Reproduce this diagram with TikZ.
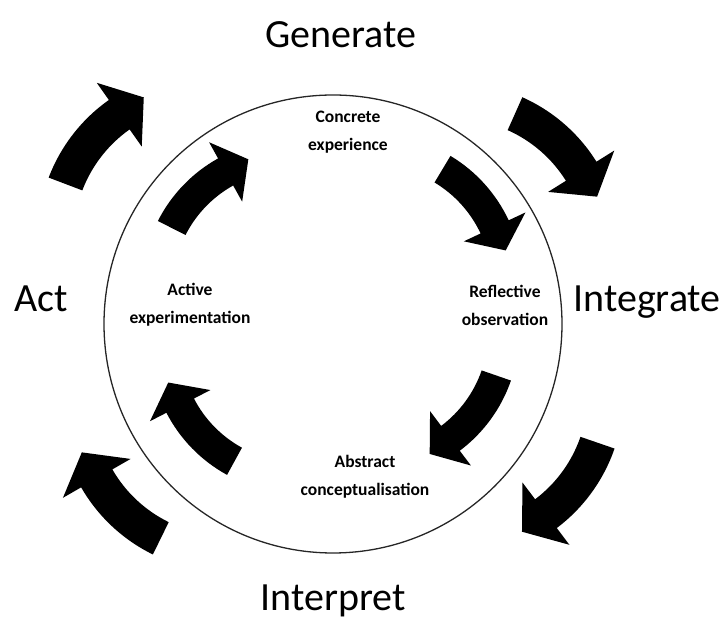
\documentclass[tikz,border=0pt]{standalone}
\usepackage{fontspec}
\setmainfont{Carlito}
\usetikzlibrary{calc}
\tikzset{
  arrowfill/.style={fill=black},
  biglabel/.style={font=\fontsize{40}{48}\selectfont, inner sep=0pt, anchor=base},
  smalllabel/.style={font=\fontsize{17.5}{28}\selectfont\bfseries, align=center, inner sep=0pt},
  ring/.style={circle, draw=black!85, line width=1.3pt, minimum size=458pt, inner sep=0pt}
}
% #1 x, #2 y, #3 start direction, #4 curvature radius, #5 half shaft width,
% #6 half head width, #7 head length, #8 turning angle
\newcommand\curvedblockarrow[8]{%
  \begin{scope}[shift={(#1,#2)}, rotate=#3]
    \fill[arrowfill] (0,#5) arc[start angle=90, end angle={90-#8}, radius={#4+#5}]
      -- ([shift={(0,-#4)}]{90-#8}:{#4+#6})
      -- ($(0,-#4)+({90-#8}:#4)+({-#8}:#7)$)
      -- ([shift={(0,-#4)}]{90-#8}:{#4-#6})
      -- ([shift={(0,-#4)}]{90-#8}:{#4-#5})
      arc[start angle={90-#8}, end angle=90, radius={#4-#5}]
      -- cycle;
  \end{scope}}
\begin{document}
\begin{tikzpicture}[x=1pt, y=1pt]
\useasboundingbox (0,0) rectangle (726,621);
\node[ring] (cycle) at (333,297) {};
% outer arrows
\curvedblockarrow{65.5}{437}{69.2}{150}{18}{39}{30}{34}
\curvedblockarrow{515}{507.3}{-24}{150}{18}{39}{30}{34}
\curvedblockarrow{597.5}{178.3}{-109}{150}{18}{39}{30}{34}
\curvedblockarrow{160.8}{82.7}{153.9}{150}{18}{39}{30}{34}
% inner arrows
\curvedblockarrow{171.7}{393}{63.1}{133}{15.5}{34}{26}{34}
\curvedblockarrow{442.5}{451.8}{-30.9}{133}{15.5}{34}{26}{34}
\curvedblockarrow{496.3}{245.5}{-109.1}{133}{15.5}{34}{26}{34}
\curvedblockarrow{234.5}{159.7}{151.3}{133}{15.5}{34}{26}{34}
% big labels
\node[biglabel] (generate) at (341,573) {Generate};
\node[biglabel] (act) at (41,309) {Act};
\node[biglabel] (integrate) at (647,309) {Integrate};
\node[biglabel] (interpret) at (333,10) {Interpret};
% inner labels
\node[smalllabel] (concrete) at (348,489) {Concrete\\experience};
\node[smalllabel] (reflective) at (505,316) {Reflective\\observation};
\node[smalllabel] (abstract) at (365,144) {Abstract\\conceptualisation};
\node[smalllabel] (active) at (190,316) {Active\\experimentation};
\end{tikzpicture}
\end{document}
